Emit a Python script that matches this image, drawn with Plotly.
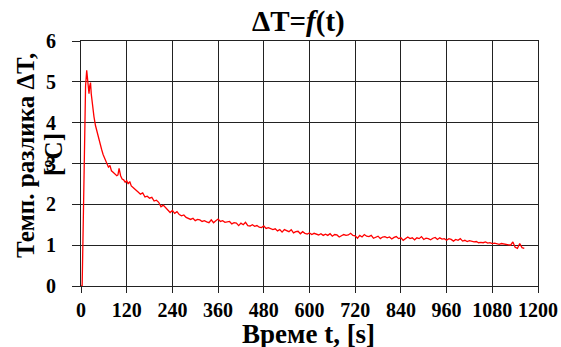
import plotly.graph_objects as go

# time [s]
t = [0, 3, 6, 9, 12, 15, 17, 19, 21, 23, 25, 27, 30, 34, 38, 42, 46, 50, 54, 58,
     63, 67, 72, 76, 80, 85, 89, 94, 97, 100, 104, 108, 112, 116, 120, 124, 128,
     132, 136, 140, 145,
     150, 156, 162, 168, 174, 180, 186, 192, 198, 204,
     210, 216, 222, 228, 234, 240, 246, 252, 258, 264,
     270, 276, 282, 288, 294, 300, 306, 312, 318, 324,
     330, 336, 342, 348, 354, 360, 366, 372, 378, 384,
     390, 396, 402, 408, 414, 420, 426, 432, 438, 444,
     450, 456, 462, 468, 474, 480, 486, 492, 498, 504,
     510, 516, 522, 528, 534, 540, 546, 552, 558, 564,
     570, 576, 582, 588, 594, 600, 606, 612, 618, 624,
     630, 636, 642, 648, 654, 660, 666, 672, 678, 684,
     690, 696, 702, 708, 714, 720, 726, 732, 738, 744,
     750, 756, 762, 768, 774, 780, 786, 792, 798, 804,
     810, 816, 822, 828, 834, 840, 846, 852, 858, 864,
     870, 876, 882, 888, 894, 900, 906, 912, 918, 924,
     930, 936, 942, 948, 954, 960, 966, 972, 978, 984,
     990, 996, 1002, 1008, 1014, 1020, 1026, 1032, 1038, 1044,
     1050, 1056, 1062, 1068, 1074, 1080, 1086, 1092, 1098, 1104,
     1110, 1116, 1122, 1128, 1134, 1140, 1146, 1152, 1158, 1164]

# temperature difference [°C]
dT = [0.0, 0.0, 1.6, 3.4, 4.9, 5.28, 5.0, 4.85, 4.71, 4.9, 4.98, 4.7, 4.41, 4.15,
      3.93, 3.78, 3.6, 3.44, 3.35, 3.22,
      3.12, 3.02, 2.91, 2.95, 2.82, 2.78, 2.75, 2.7, 2.72, 2.88, 2.7, 2.62, 2.6,
      2.54, 2.58, 2.5, 2.56, 2.45, 2.42, 2.38, 2.35,
      2.30, 2.25, 2.28, 2.18, 2.20, 2.15, 2.17, 2.08, 2.10, 2.05,
      1.94, 1.98, 1.92, 1.86, 1.80, 1.85, 1.78, 1.82, 1.75, 1.72,
      1.74, 1.68, 1.66, 1.63, 1.66, 1.60, 1.63, 1.62, 1.58, 1.60,
      1.57, 1.55, 1.62, 1.55, 1.60, 1.64, 1.58, 1.60, 1.56, 1.57,
      1.58, 1.52, 1.55, 1.54, 1.48, 1.54, 1.50, 1.56, 1.48, 1.47,
      1.50, 1.46, 1.48, 1.44, 1.43, 1.47, 1.41, 1.43, 1.40, 1.38,
      1.40, 1.35, 1.38, 1.32, 1.38, 1.36, 1.33, 1.38, 1.30, 1.33,
      1.34, 1.28, 1.33, 1.29, 1.27, 1.30, 1.26, 1.29, 1.27, 1.25,
      1.28, 1.24, 1.27, 1.24, 1.28, 1.22, 1.26, 1.25, 1.20, 1.24,
      1.26, 1.24, 1.25, 1.29, 1.24, 1.23, 1.17, 1.24, 1.20, 1.26,
      1.22, 1.21, 1.24, 1.17, 1.19, 1.22, 1.16, 1.20, 1.21, 1.18,
      1.20, 1.15, 1.19, 1.21, 1.16, 1.18, 1.12, 1.17, 1.20, 1.16,
      1.18, 1.13, 1.18, 1.16, 1.21, 1.14, 1.17, 1.16, 1.13, 1.17,
      1.19, 1.14, 1.18, 1.15, 1.16, 1.12, 1.16, 1.14, 1.10, 1.14,
      1.12, 1.16, 1.10, 1.12, 1.09, 1.11, 1.10, 1.08, 1.09, 1.06,
      1.07, 1.06, 1.08, 1.05, 1.06, 1.04, 1.05, 1.03, 1.02, 1.04,
      1.03, 1.02, 1.02, 1.00, 1.08, 0.95, 0.92, 1.04, 0.94, 0.92]

x_ticks = [0, 120, 240, 360, 480, 600, 720, 840, 960, 1080, 1200]
y_ticks = [0, 1, 2, 3, 4, 5, 6]

title_text = "<b>ΔT=<i>f</i>(t)</b>"
x_title = "<b>Време t, [s]</b>"
y_title_1 = "<b>Темп. разлика ΔT,</b>"
y_title_2 = "<b>[ºC]</b>"

FONT = "Liberation Serif"

fig = go.Figure()
fig.add_trace(go.Scatter(x=t, y=dT, mode="lines",
                         line=dict(color="#FF0000", width=1.3),
                         showlegend=False))

axis_common = dict(
    showgrid=True, gridcolor="#222222", gridwidth=1,
    showline=True, linecolor="#222222", linewidth=1, mirror=True,
    ticks="outside", tickcolor="#222222", tickwidth=1,
    zeroline=False, automargin=False,
    tickfont=dict(family=FONT, size=20, color="black", weight="bold"),
)

fig.update_xaxes(range=[0, 1200], tickvals=x_ticks, ticklen=6,
                 ticklabelstandoff=0, **axis_common)
fig.update_yaxes(range=[0, 6], tickvals=y_ticks, ticklen=8,
                 ticklabelstandoff=12, **axis_common)

W, H = 561, 347
L, R, T, B = 81, 23, 41, 61
pw, ph = W - L - R, H - T - B

def px(xp):
    return (xp - L) / pw

def py(yp):
    return (H - B - yp) / ph

fig.update_layout(
    width=W, height=H,
    margin=dict(l=L, r=R, t=T, b=B, autoexpand=False),
    paper_bgcolor="white", plot_bgcolor="white",
    font=dict(family=FONT, color="black"),
    annotations=[
        dict(text=title_text, xref="paper", yref="paper", x=px(298), y=py(22),
             xanchor="center", yanchor="middle", showarrow=False,
             font=dict(family=FONT, size=29, color="black")),
        dict(text=x_title, xref="paper", yref="paper", x=px(308), y=py(334),
             xanchor="center", yanchor="middle", showarrow=False,
             font=dict(family=FONT, size=27, color="black")),
        dict(text=y_title_1, xref="paper", yref="paper", x=px(25), y=py(156),
             xanchor="center", yanchor="middle", showarrow=False, textangle=-90,
             font=dict(family=FONT, size=25, color="black")),
        dict(text=y_title_2, xref="paper", yref="paper", x=px(53), y=py(155),
             xanchor="center", yanchor="middle", showarrow=False, textangle=-90,
             font=dict(family=FONT, size=25, color="black")),
    ],
)

fig.write_html("out.html", config={"displayModeBar": False},
               post_script="document.body.style.margin='0';")
